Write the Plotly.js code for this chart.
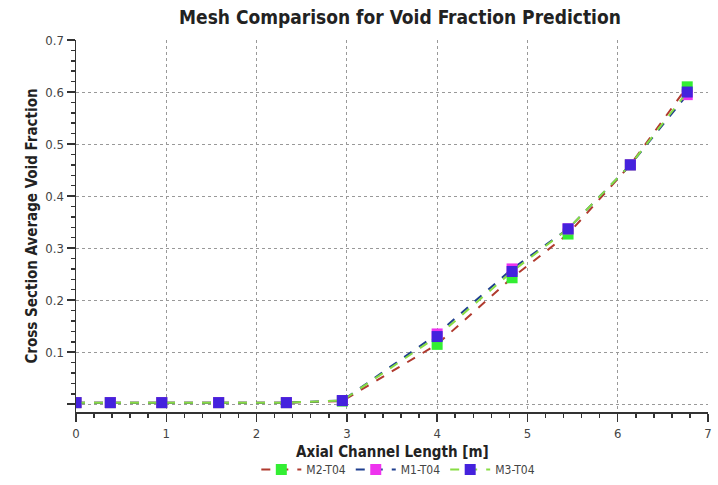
<!DOCTYPE html>
<html><head><meta charset="utf-8">
<script src="https://cdn.plot.ly/plotly-3.0.1.min.js"></script>
<style>body{margin:0;background:#fff}#chart{width:718px;height:485px}</style>
</head><body><div id="chart"></div>
<script>
const xValues = [0, 0.38, 0.95, 1.58, 2.33, 2.95, 4.0, 4.83, 5.45, 6.14, 6.77];
const m2 = [0.003, 0.003, 0.003, 0.003, 0.003, 0.006, 0.115, 0.243, 0.327, 0.46, 0.61];
const m1 = [0.003, 0.003, 0.003, 0.003, 0.003, 0.007, 0.135, 0.26, 0.337, 0.46, 0.595];
const m3 = [0.003, 0.003, 0.003, 0.003, 0.003, 0.007, 0.13, 0.255, 0.337, 0.46, 0.60];
const seriesNames = ["M2-T04", "M1-T04", "M3-T04"];
const xTitle = "Axial Channel Length [m]";

const font = "Tahoma, 'DejaVu Sans Condensed', 'DejaVu Sans', sans-serif";
const traces = [
  {x: xValues, y: m2, name: seriesNames[0], mode: "lines+markers",
   line: {color: "#b03a2e", width: 2, dash: "dash"},
   marker: {symbol: "square", size: 11, color: "#33ee33"}},
  {x: xValues, y: m1, name: seriesNames[1], mode: "lines+markers",
   line: {color: "#1f3f8f", width: 2, dash: "dash"},
   marker: {symbol: "square", size: 11, color: "#ee33ee"}},
  {x: xValues, y: m3, name: seriesNames[2], mode: "lines+markers",
   line: {color: "#88dd44", width: 2, dash: "dash"},
   marker: {symbol: "square", size: 11, color: "#4422dd"}}
];
const layout = {
  width: 718, height: 485,
  margin: {l: 76, r: 10, t: 40, b: 73},
  paper_bgcolor: "#fff", plot_bgcolor: "#fff",
  font: {family: font, size: 13, color: "#444"},
  title: {text: "<b>Mesh Comparison for Void Fraction Prediction</b>", x: 0.557, xanchor: "center",
          yref: "container", y: 0.965, yanchor: "middle",
          font: {family: font, size: 19, color: "#222"}},
  xaxis: {range: [0, 7], tickmode: "linear", tick0: 0, dtick: 1, showline: true, linecolor: "#333", linewidth: 2,
          ticks: "outside", ticklen: 8, tickcolor: "#333", tickwidth: 1.5,
          showgrid: true, gridcolor: "#999", griddash: "dot", gridwidth: 1, zeroline: false,
          minor: {dtick: 0.2, ticks: "outside", ticklen: 4, tickcolor: "#333", showgrid: false}},
  yaxis: {range: [-0.015, 0.7], tickmode: "linear", tick0: 0, dtick: 0.1, labelalias: {"0": " "},
          showline: true, linecolor: "#333", linewidth: 1.5,
          ticks: "outside", ticklen: 8, tickcolor: "#333", tickwidth: 1.5,
          showgrid: true, gridcolor: "#999", griddash: "dot", gridwidth: 1, zeroline: false,
          minor: {dtick: 0.02, ticks: "outside", ticklen: 4, tickcolor: "#333", showgrid: false},
          title: {text: "<b>Cross Section Average Void Fraction</b>", font: {family: font, size: 15, color: "#222"}, standoff: 4}},
  annotations: [{text: "<b>" + xTitle + "</b>", xref: "paper", yref: "paper", x: 0.5, y: -0.108,
                 xanchor: "center", yanchor: "middle", showarrow: false,
                 font: {family: font, size: 15, color: "#222"}}],
  legend: {orientation: "h", x: 0.51, xanchor: "center", yref: "container", y: 0.032, yanchor: "middle",
           font: {family: font, size: 12, color: "#444"}, itemwidth: 40},
  showlegend: true
};
Plotly.newPlot("chart", traces, layout, {displayModeBar: false, staticPlot: true});
</script></body></html>
